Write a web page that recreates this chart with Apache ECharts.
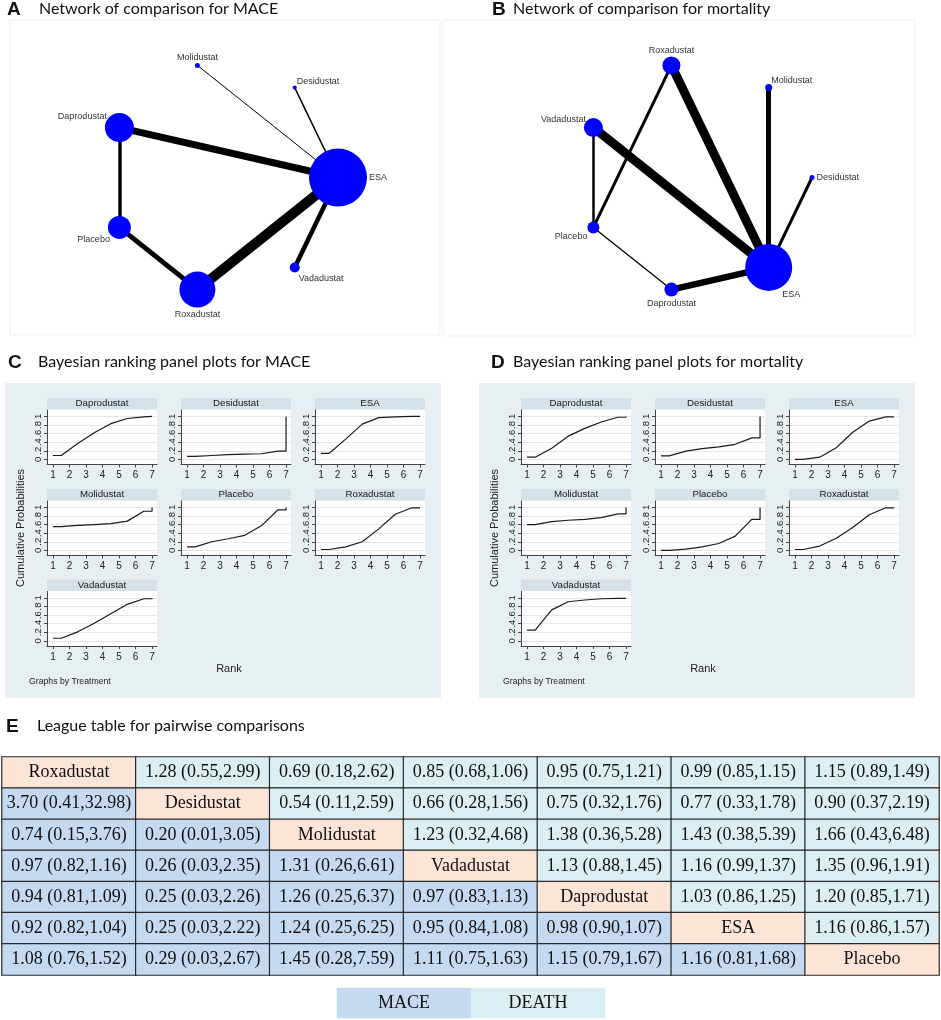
<!DOCTYPE html>
<html><head><meta charset="utf-8">
<script src="https://cdn.jsdelivr.net/npm/echarts@6/dist/echarts.min.js"></script>
<style>html,body{margin:0;padding:0;background:#fff}#c{width:941px;height:1020px}</style>
</head><body><div id="c"></div>
<script>
// ---------------- DATA ----------------
// Network A (MACE): nodes in circular order, node weights, edges [from, to, weight]
const networkOrderMACE = ['ESA','Desidustat','Molidustat','Daprodustat','Placebo','Roxadustat','Vadadustat'];
const nodeWeightMACE = [58, 4, 5, 29, 23, 36, 10];
const edgesMACE = [
  ['Daprodustat','ESA',7], ['Roxadustat','ESA',10], ['Molidustat','ESA',1], ['Desidustat','ESA',1.5],
  ['Vadadustat','ESA',4.5], ['Daprodustat','Placebo',3.5], ['Placebo','Roxadustat',5]
];
// Network B (mortality)
const networkOrderDeath = ['Desidustat','Molidustat','Roxadustat','Vadadustat','Placebo','Daprodustat','ESA'];
const nodeWeightDeath = [5, 7, 18, 19, 12, 14, 47];
const edgesDeath = [
  ['Roxadustat','ESA',9], ['Vadadustat','ESA',9], ['Molidustat','ESA',5], ['Desidustat','ESA',3],
  ['Daprodustat','ESA',6.5], ['Vadadustat','Placebo',2.5], ['Roxadustat','Placebo',3], ['Placebo','Daprodustat',1.3]
];

// Ranking panels
const panelTreatments = ['Daprodustat','Desidustat','ESA','Molidustat','Placebo','Roxadustat','Vadadustat'];
const rankPositions = [1, 1.5, 2.5, 3.5, 4.5, 5.5, 6.5, 7, 7];
const rankTicks = [1, 2, 3, 4, 5, 6, 7];
const probTicks = [0, 0.2, 0.4, 0.6, 0.8, 1];
// MACE cumulative probabilities
const maceDaprodustat = [0.09, 0.09, 0.37, 0.62, 0.83, 0.95, 0.99, 1.0, 1.0];
const maceDesidustat  = [0.07, 0.07, 0.09, 0.11, 0.12, 0.13, 0.19, 0.19, 1.0];
const maceESA         = [0.14, 0.14, 0.47, 0.82, 0.97, 0.99, 1.0, 1.0, 1.0];
const maceMolidustat  = [0.55, 0.55, 0.58, 0.60, 0.62, 0.68, 0.91, 0.91, 1.0];
const macePlacebo     = [0.08, 0.08, 0.20, 0.27, 0.35, 0.57, 0.94, 0.94, 1.0];
const maceRoxadustat  = [0.02, 0.02, 0.08, 0.20, 0.50, 0.84, 0.99, 0.99, 1.0];
const maceVadadustat  = [0.06, 0.06, 0.21, 0.41, 0.63, 0.85, 0.98, 0.98, 1.0];
// Mortality cumulative probabilities
const deathDaprodustat = [0.05, 0.05, 0.26, 0.54, 0.72, 0.87, 0.98, 0.98, 1.0];
const deathDesidustat  = [0.08, 0.08, 0.19, 0.25, 0.29, 0.35, 0.50, 0.50, 1.0];
const deathESA         = [0.00, 0.00, 0.05, 0.27, 0.63, 0.89, 0.99, 0.99, 1.0];
const deathMolidustat  = [0.60, 0.60, 0.67, 0.70, 0.72, 0.76, 0.85, 0.85, 1.0];
const deathPlacebo     = [0.00, 0.00, 0.03, 0.08, 0.16, 0.33, 0.72, 0.72, 1.0];
const deathRoxadustat  = [0.02, 0.02, 0.10, 0.28, 0.53, 0.83, 0.99, 0.99, 1.0];
const deathVadadustat  = [0.25, 0.25, 0.72, 0.91, 0.95, 0.98, 0.99, 0.99, 1.0];

// League table
const leagueTreatments = ['Roxadustat','Desidustat','Molidustat','Vadadustat','Daprodustat','ESA','Placebo'];
const deathUpper = [
  ['1.28 (0.55,2.99)','0.69 (0.18,2.62)','0.85 (0.68,1.06)','0.95 (0.75,1.21)','0.99 (0.85,1.15)','1.15 (0.89,1.49)'],
  ['0.54 (0.11,2.59)','0.66 (0.28,1.56)','0.75 (0.32,1.76)','0.77 (0.33,1.78)','0.90 (0.37,2.19)'],
  ['1.23 (0.32,4.68)','1.38 (0.36,5.28)','1.43 (0.38,5.39)','1.66 (0.43,6.48)'],
  ['1.13 (0.88,1.45)','1.16 (0.99,1.37)','1.35 (0.96,1.91)'],
  ['1.03 (0.86,1.25)','1.20 (0.85,1.71)'],
  ['1.16 (0.86,1.57)']
];
const maceLower = [
  [],
  ['3.70 (0.41,32.98)'],
  ['0.74 (0.15,3.76)','0.20 (0.01,3.05)'],
  ['0.97 (0.82,1.16)','0.26 (0.03,2.35)','1.31 (0.26,6.61)'],
  ['0.94 (0.81,1.09)','0.25 (0.03,2.26)','1.26 (0.25,6.37)','0.97 (0.83,1.13)'],
  ['0.92 (0.82,1.04)','0.25 (0.03,2.22)','1.24 (0.25,6.25)','0.95 (0.84,1.08)','0.98 (0.90,1.07)'],
  ['1.08 (0.76,1.52)','0.29 (0.03,2.67)','1.45 (0.28,7.59)','1.11 (0.75,1.63)','1.15 (0.79,1.67)','1.16 (0.81,1.68)']
];
const legendLabels = ['MACE','DEATH'];

// ---------------- BUILD ----------------
const maceCurves = [maceDaprodustat, maceDesidustat, maceESA, maceMolidustat, macePlacebo, maceRoxadustat, maceVadadustat];
const deathCurves = [deathDaprodustat, deathDesidustat, deathESA, deathMolidustat, deathPlacebo, deathRoxadustat, deathVadadustat];

const SANS = 'Liberation Sans';
const SERIF = 'Liberation Serif';
const grids = [], xAxes = [], yAxes = [], series = [], graphics = [];

// section backgrounds / frames
graphics.push({type:'rect', z:-10, shape:{x:10, y:20, width:430, height:315}, style:{fill:'#fff', stroke:'#efefef', lineWidth:1}});
graphics.push({type:'rect', z:-10, shape:{x:443, y:20, width:472, height:316}, style:{fill:'#fff', stroke:'#efefef', lineWidth:1}});
graphics.push({type:'rect', z:-10, shape:{x:5, y:383, width:436, height:315}, style:{fill:'#e8eff2'}});
graphics.push({type:'rect', z:-10, shape:{x:479, y:383, width:436, height:315}, style:{fill:'#e8eff2'}});

function sectionTitle(letter, lx, text, tx, cy) {
  graphics.push({type:'text', z:50, x:lx, y:cy, style:{text:letter, font:'bold 19px "Liberation Sans"', fill:'#111', textVerticalAlign:'middle'}});
  graphics.push({type:'text', z:50, x:tx, y:cy - 1, style:{text:text, font:'16px Lato', fill:'#111', textVerticalAlign:'middle'}});
}
sectionTitle('A', 7, 'Network of comparison for MACE', 39, 10);
sectionTitle('B', 492, 'Network of comparison for mortality', 513, 10);
sectionTitle('C', 8, 'Bayesian ranking panel plots for MACE', 38, 363);
sectionTitle('D', 491, 'Bayesian ranking panel plots for mortality', 513, 363);
sectionTitle('E', 6, 'League table for pairwise comparisons', 37, 727);

const colX = [47, 181, 315];
const rowY = [409.5, 500.5, 591];
const PW = 110, PH = 55, STRIP = 11.5;

function addRankPanels(offsetX, curves) {
  panelTreatments.forEach((name, k) => {
    const gi = grids.length;
    const left = colX[k % 3] + offsetX, top = rowY[Math.floor(k / 3)];
    grids.push({left: left, top: top, width: PW, height: PH, show: true, backgroundColor: '#fff', borderWidth: 0, containLabel: false});
    xAxes.push({
      gridIndex: gi, type: 'value', min: 0.64, max: 7.3,
      axisLine: {show: true, onZero: false, lineStyle: {color: '#444', width: 1}},
      axisTick: {show: true, length: 3, customValues: rankTicks, lineStyle: {color: '#444'}},
      axisLabel: {show: true, customValues: rankTicks, fontFamily: SANS, fontSize: 10, color: '#222', margin: 6},
      splitLine: {show: false}
    });
    yAxes.push({
      gridIndex: gi, type: 'value', min: -0.12, max: 1.16,
      axisLine: {show: true, onZero: false, lineStyle: {color: '#444', width: 1}},
      axisTick: {show: true, length: 3, customValues: probTicks, lineStyle: {color: '#444'}},
      axisLabel: {show: true, customValues: probTicks, rotate: 90, fontFamily: SANS, fontSize: 9.5, color: '#222', margin: 4,
        formatter: v => (v === 0 ? '0' : v === 1 ? '1' : v.toFixed(1).replace(/^0/, ''))},
      splitLine: {show: true, lineStyle: {color: '#e6e6e6', width: 1}}
    });
    series.push({
      type: 'line', xAxisIndex: gi, yAxisIndex: gi, showSymbol: false, symbol: 'none', animation: false,
      lineStyle: {color: '#1a1a1a', width: 1.2}, emphasis: {disabled: true}, silent: true,
      data: rankPositions.map((x, i) => [x, curves[k][i]])
    });
    graphics.push({type: 'rect', z: 40, shape: {x: left, y: top - STRIP, width: PW, height: STRIP}, style: {fill: '#d5e1e8'}});
    graphics.push({type: 'text', z: 41, x: left + PW / 2, y: top - STRIP / 2, style: {text: name, font: '9.7px "Liberation Sans"', fill: '#1a1a1a', textAlign: 'center', textVerticalAlign: 'middle'}});
  });
  graphics.push({type: 'text', z: 41, x: 21 + offsetX, y: 528, rotation: Math.PI / 2, style: {text: 'Cumulative Probabilities', font: '11px "Liberation Sans"', fill: '#222', textAlign: 'center', textVerticalAlign: 'middle'}});
  graphics.push({type: 'text', z: 41, x: 229 + offsetX, y: 669, style: {text: 'Rank', font: '11px "Liberation Sans"', fill: '#222', textAlign: 'center', textVerticalAlign: 'middle'}});
  graphics.push({type: 'text', z: 41, x: 29 + offsetX, y: 682, style: {text: 'Graphs by Treatment', font: '8.7px "Liberation Sans"', fill: '#222', textAlign: 'left', textVerticalAlign: 'middle'}});
}
addRankPanels(0, maceCurves);
addRankPanels(474, deathCurves);

// Networks on polar coordinate systems (circular arrangement)
const labelPlaceMACE = {
  ESA: {position: 'right', distance: 2},
  Desidustat: {position: 'right', distance: 0, offset: [0, -6]},
  Molidustat: {position: 'top', distance: 1},
  Daprodustat: {position: 'left', distance: 0, offset: [2, -11]},
  Placebo: {position: 'left', distance: 0, offset: [2, 12]},
  Roxadustat: {position: 'bottom', distance: 2},
  Vadadustat: {position: 'right', distance: 0, offset: [-1, 11]}
};
const labelPlaceDeath = {
  Desidustat: {position: 'right', distance: 2},
  Molidustat: {position: 'right', distance: 0, offset: [-1, -7]},
  Roxadustat: {position: 'top', distance: 1},
  Vadadustat: {position: 'left', distance: 0, offset: [2, -8]},
  Placebo: {position: 'left', distance: 0, offset: [0, 9]},
  Daprodustat: {position: 'bottom', distance: 2},
  ESA: {position: 'right', distance: 0, offset: [-10, 27]}
};
function networkSeries(polarIndex, order, weights, edges, place) {
  return {
    type: 'graph', coordinateSystem: 'polar', polarIndex: polarIndex, layout: 'none', animation: false, silent: true,
    symbol: 'circle', itemStyle: {color: '#0000ff'},
    lineStyle: {color: '#000', opacity: 1, curveness: 0},
    emphasis: {disabled: true},
    label: {show: true, fontFamily: SANS, fontSize: 9, color: '#333'},
    data: order.map((n, i) => ({name: n, value: [1, i], symbolSize: weights[i], label: place[n]})),
    links: edges.map(e => ({source: e[0], target: e[1], lineStyle: {width: e[2]}})),
    z: 3
  };
}
series.push(networkSeries(0, networkOrderMACE, nodeWeightMACE, edgesMACE, labelPlaceMACE));
series.push(networkSeries(1, networkOrderDeath, nodeWeightDeath, edgesDeath, labelPlaceDeath));

// League table as heatmap
const tableGrid = grids.length;
grids.push({left: 2, top: 757, width: 937, height: 218, show: false});
xAxes.push({gridIndex: tableGrid, type: 'category', data: leagueTreatments.map((t, i) => 'c' + i), show: false});
yAxes.push({gridIndex: tableGrid, type: 'category', data: leagueTreatments.map((t, i) => 'r' + i), inverse: true, show: false});
const tableData = [];
for (let i = 0; i < 7; i++) {
  for (let j = 0; j < 7; j++) {
    if (i === j) tableData.push([j, i, 0, leagueTreatments[i]]);
    else if (j > i) tableData.push([j, i, 1, deathUpper[i][j - i - 1]]);
    else tableData.push([j, i, 2, maceLower[i][j]]);
  }
}
const tableSeriesIndex = series.length;
series.push({
  type: 'heatmap', xAxisIndex: tableGrid, yAxisIndex: tableGrid, animation: false, silent: true,
  data: tableData,
  itemStyle: {borderColor: '#2a2a2a', borderWidth: 1.2},
  label: {show: true, formatter: p => p.data[3], fontFamily: SERIF, fontSize: 18, color: '#111'},
  emphasis: {disabled: true}
});
// Legend boxes
const legendGrid = grids.length;
grids.push({left: 337, top: 988, width: 268, height: 30, show: false});
xAxes.push({gridIndex: legendGrid, type: 'category', data: legendLabels, show: false});
yAxes.push({gridIndex: legendGrid, type: 'category', data: ['k'], show: false});
const legendSeriesIndex = series.length;
series.push({
  type: 'heatmap', xAxisIndex: legendGrid, yAxisIndex: legendGrid, animation: false, silent: true,
  data: legendLabels.map((l, i) => [i, 0, i === 0 ? 2 : 1, l]),
  itemStyle: {borderWidth: 0},
  label: {show: true, formatter: p => p.data[3], fontFamily: SERIF, fontSize: 18, color: '#111'},
  emphasis: {disabled: true}
});

const chart = echarts.init(document.getElementById('c'), null, {renderer: 'canvas', width: 941, height: 1020});
chart.setOption({
  animation: false,
  backgroundColor: '#fff',
  grid: grids, xAxis: xAxes, yAxis: yAxes,
  polar: [{center: [223, 177.5], radius: 115}, {center: [697, 177.5], radius: 115}],
  radiusAxis: [{polarIndex: 0, type: 'value', min: 0, max: 1, show: false}, {polarIndex: 1, type: 'value', min: 0, max: 1, show: false}],
  angleAxis: [
    {polarIndex: 0, type: 'value', min: 0, max: 7, startAngle: 0, clockwise: false, show: false},
    {polarIndex: 1, type: 'value', min: 0, max: 7, startAngle: 0, clockwise: false, show: false}
  ],
  visualMap: [{
    type: 'piecewise', show: false, dimension: 2, seriesIndex: [tableSeriesIndex, legendSeriesIndex],
    pieces: [{value: 0, color: '#fce4d6'}, {value: 1, color: '#daeef3'}, {value: 2, color: '#c5d9f1'}]
  }],
  graphic: graphics,
  series: series
});
</script></body></html>
